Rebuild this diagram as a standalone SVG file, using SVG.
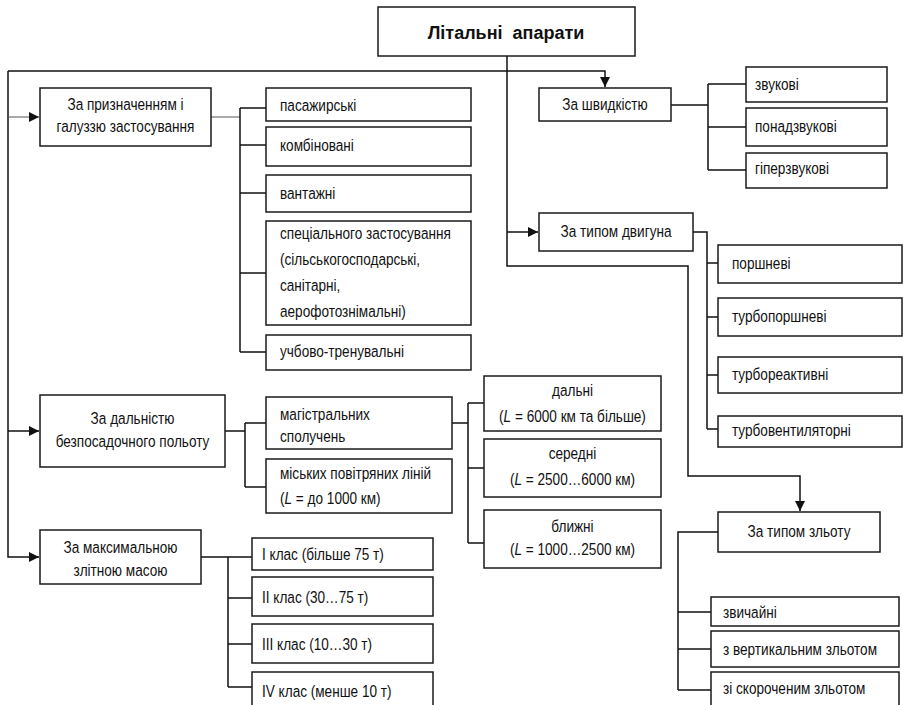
<svg xmlns="http://www.w3.org/2000/svg" width="903" height="705" viewBox="0 0 903 705">
<defs>
<style>
.box{fill:#fff;stroke:#1a1a1a;stroke-width:1.5}
.ln{fill:none;stroke:#111;stroke-width:1.5}
.thin{fill:none;stroke:#555;stroke-width:1}
text{font-family:"Liberation Sans",Arial,sans-serif;font-size:17px;fill:#111;transform-box:fill-box;transform-origin:left center;transform:scaleX(0.8)}
.c{text-anchor:middle;transform-origin:center}
.t{font-weight:bold;font-size:18px;transform:none;white-space:pre}
</style>
<marker id="ah" viewBox="0 0 10 10" refX="10" refY="5" markerWidth="10" markerHeight="10" markerUnits="userSpaceOnUse" orient="auto">
<path d="M0,0 L10,5 L0,10 z" fill="#111"/>
</marker>
</defs>
<rect width="903" height="705" fill="#fff"/>
<g id="connectors">
<path class="ln" d="M507,56 V266 H688 V476 H800 V511" marker-end="url(#ah)"/>
<path class="ln" d="M507,232 H538" marker-end="url(#ah)"/>
<path class="ln" d="M8,71 H605 V87" marker-end="url(#ah)"/>
<path class="ln" d="M8,71 V557 H39" marker-end="url(#ah)"/>
<path class="thin" d="M8,117 H39" marker-end="url(#ah)"/>
<path class="ln" d="M8,431 H39" marker-end="url(#ah)"/>
<path class="ln" d="M671,105 H708 M708,84 V170 M708,84 H746 M708,127 H746 M708,170 H746"/>
<path class="thin" d="M211,117 H240"/>
<path class="ln" d="M240,108 V352 M240,108 H266 M240,145 H266 M240,193 H266 M240,273 H266 M240,352 H266"/>
<path class="ln" d="M693,232 H707 V429 M707,263 H718 M707,317 H718 M707,375 H718 M707,429 H718"/>
<path class="ln" d="M225,431 H245 M245,423 V487 M245,423 H266 M245,487 H266"/>
<path class="ln" d="M452,423 H468 M468,403 V543 M468,403 H484 M468,468 H484 M468,543 H484"/>
<path class="ln" d="M201,557 H228 V687 M228,598 H252 M228,644 H252 M228,687 H252 M228,557 H252"/>
<path class="ln" d="M718,532 H678 V690 M678,612 H711 M678,649 H711 M678,690 H711"/>
</g>
<g id="root"><rect class="box" x="378" y="7" width="257" height="49"/><text class="c t" x="506" y="39" xml:space="preserve">Літальні  апарати</text></g>
<g id="speed"><rect class="box" x="539" y="88" width="132" height="33"/><text class="c" x="605" y="110">За швидкістю</text></g>
<g id="s1"><rect class="box" x="746" y="67" width="141" height="35"/><text x="755" y="90">звукові</text></g>
<g id="s2"><rect class="box" x="746" y="108" width="141" height="38"/><text x="755" y="132">понадзвукові</text></g>
<g id="s3"><rect class="box" x="746" y="153" width="141" height="35"/><text x="755" y="174">гіперзвукові</text></g>
<g id="purpose"><rect class="box" x="40" y="88" width="171" height="58"/><text class="c" x="125.5" y="110">За призначенням і</text><text class="c" x="125.5" y="132">галуззю застосування</text></g>
<g id="p1"><rect class="box" x="266" y="88" width="205" height="33"/><text x="280" y="111">пасажирські</text></g>
<g id="p2"><rect class="box" x="266" y="127" width="205" height="39"/><text x="280" y="151">комбіновані</text></g>
<g id="p3"><rect class="box" x="266" y="175" width="205" height="37"/><text x="280" y="199">вантажні</text></g>
<g id="p4"><rect class="box" x="266" y="221" width="205" height="104"/><text x="280" y="239">спеціального застосування</text><text x="280" y="265">(сільськогосподарські,</text><text x="280" y="291">санітарні,</text><text x="280" y="317">аерофотознімальні)</text></g>
<g id="p5"><rect class="box" x="266" y="335" width="205" height="35"/><text x="280" y="357">учбово-тренувальні</text></g>
<g id="engine"><rect class="box" x="539" y="213" width="154" height="38"/><text class="c" x="616" y="237">За типом двигуна</text></g>
<g id="e1"><rect class="box" x="718" y="245" width="184" height="38"/><text x="732" y="269">поршневі</text></g>
<g id="e2"><rect class="box" x="718" y="298" width="184" height="38"/><text x="732" y="322">турбопоршневі</text></g>
<g id="e3"><rect class="box" x="718" y="357" width="184" height="36"/><text x="732" y="380">турбореактивні</text></g>
<g id="e4"><rect class="box" x="718" y="416" width="184" height="31"/><text x="732" y="436">турбовентиляторні</text></g>
<g id="range"><rect class="box" x="40" y="395" width="185" height="72"/><text class="c" x="132.5" y="424">За дальністю</text><text class="c" x="132.5" y="447">безпосадочного польоту</text></g>
<g id="r1"><rect class="box" x="266" y="397" width="186" height="52"/><text x="280" y="420">магістральних</text><text x="280" y="442">сполучень</text></g>
<g id="r2"><rect class="box" x="266" y="459" width="186" height="54"/><text x="280" y="479">міських повітряних ліній</text><text x="280" y="504">(<tspan font-style="italic">L</tspan> = до 1000 км)</text></g>
<g id="d1"><rect class="box" x="484" y="376" width="177" height="55"/><text class="c" x="572.5" y="396">дальні</text><text class="c" x="572.5" y="422">(<tspan font-style="italic">L</tspan> = 6000 км та більше)</text></g>
<g id="d2"><rect class="box" x="484" y="439" width="177" height="58"/><text class="c" x="572.5" y="459">середні</text><text class="c" x="572.5" y="485">(<tspan font-style="italic">L</tspan> = 2500…6000 км)</text></g>
<g id="d3"><rect class="box" x="484" y="510" width="177" height="58"/><text class="c" x="572.5" y="532">ближні</text><text class="c" x="572.5" y="555">(<tspan font-style="italic">L</tspan> = 1000…2500 км)</text></g>
<g id="mass"><rect class="box" x="40" y="530" width="161" height="54"/><text class="c" x="120.5" y="553">За максимальною</text><text class="c" x="120.5" y="576">злітною масою</text></g>
<g id="m1"><rect class="box" x="252" y="538" width="181" height="32"/><text x="262" y="560">I клас (більше 75 т)</text></g>
<g id="m2"><rect class="box" x="252" y="577" width="181" height="39"/><text x="262" y="603">II клас (30…75 т)</text></g>
<g id="m3"><rect class="box" x="252" y="624" width="181" height="39"/><text x="262" y="650">III клас (10…30 т)</text></g>
<g id="m4"><rect class="box" x="252" y="672" width="181" height="40"/><text x="262" y="697">IV клас (менше 10 т)</text></g>
<g id="takeoff"><rect class="box" x="718" y="512" width="162" height="40"/><text class="c" x="799" y="537">За типом зльоту</text></g>
<g id="t1"><rect class="box" x="711" y="597" width="188" height="29"/><text x="723" y="618">звичайні</text></g>
<g id="t2"><rect class="box" x="711" y="631" width="188" height="36"/><text x="723" y="655">з вертикальним зльотом</text></g>
<g id="t3"><rect class="box" x="711" y="672" width="188" height="40"/><text x="723" y="694">зі скороченим зльотом</text></g>
</svg>
